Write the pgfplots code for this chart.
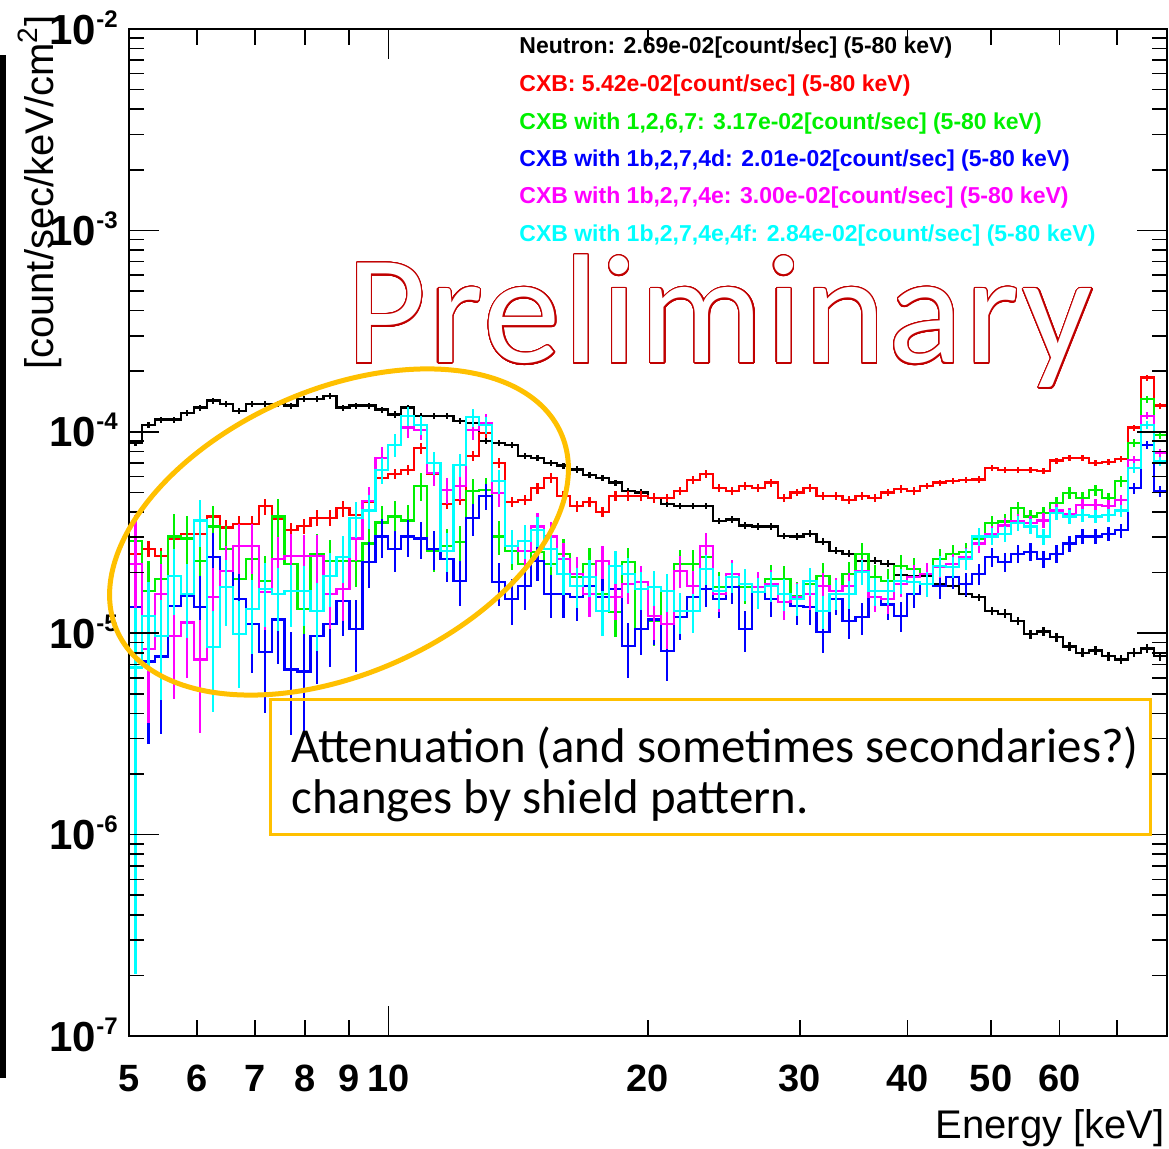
\documentclass[border=0pt]{standalone}
\usepackage{pgfplots}
\pgfplotsset{compat=1.18}
\usepackage{pgfplotstable}
\usepackage{fontspec}
\usepackage[copies]{contour}
\setmainfont{Liberation Sans}
\newfontfamily\calib{Carlito}
\newfontfamily\calibwide[LetterSpace=1.7]{Carlito}

\definecolor{hred}{RGB}{255,0,0}
\definecolor{hgreen}{RGB}{0,240,0}
\definecolor{hblue}{RGB}{0,0,255}
\definecolor{hmag}{RGB}{255,0,255}
\definecolor{hcyan}{RGB}{0,255,255}
\definecolor{callout}{RGB}{255,192,0}
\definecolor{prelim}{RGB}{192,0,0}

% superscripted decade label, ROOT style
\newcommand{\dec}[1]{10\raisebox{8.5pt}{\fontsize{12}{12}\selectfont #1}}

% Spectra per log bin (5-80 keV, 80 bins); rows at 5 and 80 keV close the outer bin edges.
% E: bin centre [keV]; value columns in count/sec/keV/cm2; *e columns: relative errors
% n: neutron, c: CXB, g: 1,2,6,7, b: 1b,2,7,4d, m: 1b,2,7,4e, cy: 1b,2,7,4e,4f
\pgfplotstableread{
E n ne c ce g ge b be m me cy cye
5 8.80e-5 0 2.48e-5 0 2.88e-5 0 1.35e-5 0 2.21e-5 0 6.76e-6 0
5.087 8.80e-5 0.035 2.48e-5 0.09 2.88e-5 0.31 1.35e-5 0.70 2.21e-5 0.75 6.76e-6 0.97
5.266 1.08e-4 0.035 2.63e-5 0.09 1.62e-5 0.41 7.24e-6 0.61 8.32e-6 0.57 1.22e-5 0.47
5.452 1.15e-4 0.035 2.42e-5 0.09 1.86e-5 0.38 7.67e-6 0.59 1.57e-5 0.41 9.66e-6 0.52
5.644 1.15e-4 0.035 2.95e-5 0.09 3.02e-5 0.29 1.36e-5 0.43 9.66e-6 0.51 1.93e-5 0.36
5.843 1.24e-4 0.035 3.12e-5 0.09 2.95e-5 0.29 1.53e-5 0.40 1.13e-5 0.47 1.57e-5 0.40
6.049 1.32e-4 0.035 3.12e-5 0.09 2.29e-5 0.32 1.35e-5 0.42 7.41e-6 0.57 3.63e-5 0.26
6.263 1.43e-4 0.035 3.80e-5 0.09 3.39e-5 0.26 2.40e-5 0.31 1.51e-5 0.39 8.51e-6 0.52
6.483 1.37e-4 0.035 3.35e-5 0.09 2.63e-5 0.29 2.04e-5 0.33 2.04e-5 0.33 1.70e-5 0.36
6.712 1.27e-4 0.035 3.50e-5 0.09 1.86e-5 0.34 1.48e-5 0.38 2.72e-5 0.28 9.89e-6 0.46
6.949 1.37e-4 0.035 3.50e-5 0.09 2.34e-5 0.30 1.11e-5 0.43 2.72e-5 0.28 1.32e-5 0.40
7.194 1.38e-4 0.035 4.27e-5 0.09 1.82e-5 0.33 8.04e-6 0.50 1.60e-5 0.35 1.66e-5 0.35
7.447 1.37e-4 0.035 3.70e-5 0.09 3.80e-5 0.22 1.17e-5 0.40 2.34e-5 0.29 1.57e-5 0.35
7.710 1.35e-4 0.035 3.24e-5 0.09 2.21e-5 0.29 6.61e-6 0.53 2.42e-5 0.28 1.62e-5 0.34
7.982 1.46e-4 0.035 3.40e-5 0.09 1.32e-5 0.37 6.46e-6 0.53 2.42e-5 0.27 1.62e-5 0.33
8.263 1.45e-4 0.035 3.75e-5 0.09 2.48e-5 0.26 9.66e-6 0.42 2.42e-5 0.27 1.29e-5 0.37
8.555 1.51e-4 0.035 3.75e-5 0.09 2.29e-5 0.27 1.11e-5 0.39 1.57e-5 0.33 1.93e-5 0.30
8.856 1.32e-4 0.035 4.17e-5 0.09 2.29e-5 0.27 1.45e-5 0.33 1.66e-5 0.31 2.40e-5 0.26
9.169 1.35e-4 0.035 3.85e-5 0.09 2.29e-5 0.26 1.05e-5 0.39 2.95e-5 0.23 3.72e-5 0.20
9.492 1.35e-4 0.035 4.50e-5 0.06 2.79e-5 0.23 2.26e-5 0.26 4.52e-5 0.18 4.07e-5 0.19
9.827 1.29e-4 0.035 5.90e-5 0.06 3.55e-5 0.20 3.02e-5 0.22 7.41e-5 0.14 6.46e-5 0.15
10.17 1.22e-4 0.035 6.20e-5 0.06 3.80e-5 0.19 2.63e-5 0.23 8.61e-5 0.13 8.61e-5 0.13
10.53 1.32e-4 0.035 6.46e-5 0.06 3.63e-5 0.19 3.02e-5 0.21 1.05e-4 0.11 1.20e-4 0.11
10.90 1.20e-4 0.035 8.30e-5 0.06 5.37e-5 0.16 2.95e-5 0.21 1.02e-4 0.11 1.08e-4 0.11
11.29 1.20e-4 0.035 6.20e-5 0.06 2.57e-5 0.22 2.63e-5 0.22 6.24e-5 0.14 7.00e-5 0.13
11.69 1.20e-4 0.035 4.40e-5 0.06 2.72e-5 0.21 2.34e-5 0.23 5.13e-5 0.15 2.57e-5 0.22
12.10 1.13e-4 0.035 4.60e-5 0.06 2.85e-5 0.20 1.82e-5 0.25 5.37e-5 0.15 6.84e-5 0.13
12.52 1.11e-4 0.035 7.60e-5 0.06 5.07e-5 0.15 3.72e-5 0.18 1.02e-4 0.11 1.18e-4 0.10
12.97 9.00e-5 0.035 9.90e-5 0.06 5.13e-5 0.15 4.79e-5 0.15 1.11e-4 0.10 1.08e-4 0.10
13.42 8.80e-5 0.035 7.00e-5 0.06 3.02e-5 0.19 1.80e-5 0.24 4.96e-5 0.15 5.69e-5 0.14
13.90 8.60e-5 0.035 4.50e-5 0.06 2.57e-5 0.20 1.48e-5 0.26 2.72e-5 0.19 2.72e-5 0.19
14.39 7.60e-5 0.035 4.60e-5 0.06 2.21e-5 0.21 1.72e-5 0.24 2.57e-5 0.20 2.88e-5 0.19
14.89 7.40e-5 0.035 5.25e-5 0.06 2.54e-5 0.20 2.29e-5 0.21 3.39e-5 0.17 3.24e-5 0.17
15.42 7.00e-5 0.035 5.90e-5 0.06 2.21e-5 0.21 1.57e-5 0.24 3.02e-5 0.18 2.63e-5 0.19
15.96 6.80e-5 0.035 4.80e-5 0.06 2.48e-5 0.19 1.57e-5 0.24 2.34e-5 0.20 1.97e-5 0.21
16.53 6.50e-5 0.035 4.27e-5 0.06 1.91e-5 0.21 1.51e-5 0.24 1.97e-5 0.21 1.72e-5 0.22
17.11 6.10e-5 0.035 4.50e-5 0.06 2.21e-5 0.20 1.72e-5 0.22 1.57e-5 0.23 1.91e-5 0.21
17.71 5.90e-5 0.035 4.00e-5 0.06 1.57e-5 0.23 1.51e-5 0.23 2.29e-5 0.19 1.29e-5 0.25
18.34 5.60e-5 0.035 4.80e-5 0.06 1.27e-5 0.25 1.66e-5 0.22 1.51e-5 0.23 2.16e-5 0.19
18.98 5.10e-5 0.035 4.80e-5 0.06 2.25e-5 0.18 8.61e-6 0.30 1.76e-5 0.21 1.97e-5 0.20
19.65 5.00e-5 0.035 4.80e-5 0.06 1.05e-5 0.26 1.05e-5 0.26 1.80e-5 0.20 1.66e-5 0.21
20.34 4.70e-5 0.035 4.70e-5 0.06 1.15e-5 0.25 1.17e-5 0.25 1.22e-5 0.24 1.70e-5 0.20
21.06 4.40e-5 0.035 4.70e-5 0.045 1.62e-5 0.21 8.13e-6 0.29 1.11e-5 0.25 1.62e-5 0.21
21.80 4.30e-5 0.035 5.10e-5 0.045 2.21e-5 0.17 1.20e-5 0.23 2.04e-5 0.18 1.29e-5 0.23
22.57 4.27e-5 0.035 5.75e-5 0.045 2.21e-5 0.17 1.51e-5 0.21 1.72e-5 0.19 1.29e-5 0.22
23.37 4.27e-5 0.035 6.20e-5 0.045 2.40e-5 0.16 1.66e-5 0.19 2.72e-5 0.15 2.09e-5 0.17
24.19 3.60e-5 0.035 5.25e-5 0.045 1.70e-5 0.19 1.48e-5 0.20 1.57e-5 0.19 1.62e-5 0.19
25.05 3.67e-5 0.035 5.07e-5 0.045 1.91e-5 0.17 1.70e-5 0.18 1.97e-5 0.17 1.91e-5 0.17
25.93 3.43e-5 0.035 5.40e-5 0.045 1.70e-5 0.18 1.05e-5 0.23 1.76e-5 0.18 1.76e-5 0.18
26.84 3.39e-5 0.035 5.25e-5 0.045 1.70e-5 0.18 1.70e-5 0.18 1.70e-5 0.18 1.60e-5 0.18
27.79 3.39e-5 0.035 5.60e-5 0.045 1.86e-5 0.17 1.48e-5 0.19 1.76e-5 0.17 1.72e-5 0.17
28.77 3.05e-5 0.035 4.70e-5 0.045 1.86e-5 0.16 1.57e-5 0.18 1.43e-5 0.19 1.57e-5 0.18
29.78 3.02e-5 0.04 5.00e-5 0.045 1.53e-5 0.18 1.36e-5 0.19 1.51e-5 0.18 1.48e-5 0.18
30.83 3.12e-5 0.04 5.25e-5 0.045 1.76e-5 0.16 1.35e-5 0.19 1.57e-5 0.17 1.82e-5 0.16
31.92 2.85e-5 0.04 4.80e-5 0.045 1.93e-5 0.15 1.01e-5 0.21 1.72e-5 0.16 1.29e-5 0.19
33.05 2.57e-5 0.04 4.80e-5 0.045 1.62e-5 0.16 1.48e-5 0.17 1.62e-5 0.16 1.57e-5 0.17
34.21 2.48e-5 0.04 4.60e-5 0.045 1.97e-5 0.15 1.15e-5 0.19 1.72e-5 0.16 1.57e-5 0.16
35.42 2.29e-5 0.04 4.80e-5 0.045 2.48e-5 0.13 1.20e-5 0.18 2.04e-5 0.14 2.02e-5 0.14
36.67 2.29e-5 0.04 4.70e-5 0.045 1.91e-5 0.14 1.51e-5 0.16 1.51e-5 0.16 1.62e-5 0.16
37.96 2.21e-5 0.04 5.00e-5 0.045 1.82e-5 0.14 1.39e-5 0.16 1.48e-5 0.16 1.62e-5 0.15
39.30 1.95e-5 0.04 5.20e-5 0.045 2.16e-5 0.13 1.22e-5 0.17 1.76e-5 0.14 1.82e-5 0.14
40.68 1.93e-5 0.04 5.10e-5 0.045 2.09e-5 0.13 1.57e-5 0.15 1.91e-5 0.14 1.80e-5 0.14
42.12 1.93e-5 0.04 5.40e-5 0.035 1.97e-5 0.13 1.76e-5 0.14 1.97e-5 0.13 1.76e-5 0.14
43.60 1.76e-5 0.04 5.60e-5 0.035 2.34e-5 0.12 1.72e-5 0.14 2.14e-5 0.12 2.16e-5 0.12
45.14 1.72e-5 0.04 5.70e-5 0.035 2.48e-5 0.11 1.91e-5 0.13 2.21e-5 0.12 2.14e-5 0.12
46.73 1.57e-5 0.04 5.75e-5 0.035 2.54e-5 0.11 1.76e-5 0.13 2.40e-5 0.11 2.34e-5 0.12
48.38 1.51e-5 0.04 5.80e-5 0.035 2.95e-5 0.10 1.97e-5 0.12 2.79e-5 0.10 3.02e-5 0.10
50.09 1.29e-5 0.05 6.60e-5 0.035 3.51e-5 0.09 2.40e-5 0.11 3.12e-5 0.096 3.02e-5 0.097
51.85 1.25e-5 0.05 6.46e-5 0.035 3.59e-5 0.09 2.26e-5 0.11 3.43e-5 0.09 3.12e-5 0.094
53.68 1.15e-5 0.05 6.46e-5 0.035 4.17e-5 0.08 2.48e-5 0.10 3.59e-5 0.087 3.51e-5 0.088
55.57 9.90e-6 0.05 6.46e-5 0.035 3.80e-5 0.08 2.54e-5 0.10 3.51e-5 0.085 3.39e-5 0.087
57.53 1.02e-5 0.05 6.40e-5 0.035 3.94e-5 0.08 2.34e-5 0.10 3.63e-5 0.083 3.02e-5 0.091
59.56 9.55e-6 0.05 7.20e-5 0.035 4.42e-5 0.07 2.48e-5 0.10 4.07e-5 0.077 3.94e-5 0.078
61.66 8.60e-6 0.05 7.40e-5 0.035 4.96e-5 0.07 2.79e-5 0.09 3.89e-5 0.077 3.80e-5 0.078
63.84 8.00e-6 0.05 7.40e-5 0.035 4.68e-5 0.07 3.02e-5 0.086 4.32e-5 0.072 3.85e-5 0.076
66.09 8.20e-6 0.05 7.00e-5 0.035 5.13e-5 0.065 3.02e-5 0.085 4.32e-5 0.071 3.80e-5 0.076
68.42 7.70e-6 0.05 7.10e-5 0.035 4.68e-5 0.067 3.12e-5 0.082 4.27e-5 0.070 3.85e-5 0.074
70.83 7.40e-6 0.05 7.30e-5 0.035 5.69e-5 0.06 3.24e-5 0.079 4.57e-5 0.066 4.07e-5 0.070
73.33 8.00e-6 0.05 1.05e-4 0.035 8.81e-5 0.047 5.25e-5 0.061 7.24e-5 0.052 6.61e-5 0.054
75.91 8.40e-6 0.05 1.86e-4 0.035 1.45e-4 0.036 8.61e-5 0.047 1.20e-4 0.040 1.08e-4 0.042
78.59 7.70e-6 0.05 1.35e-4 0.035 9.66e-5 0.043 5.07e-5 0.060 7.85e-5 0.048 7.16e-5 0.050
80 7.70e-6 0 1.35e-4 0 9.66e-5 0 5.07e-5 0 7.85e-5 0 7.16e-5 0
}\spectra

\pgfplotsset{
  hist/.style={const plot mark mid, line width=1.1pt, mark=none,
    error bars/y dir=both, error bars/y explicit relative,
    error bars/error mark=none,
    error bars/error bar style={line width=1.1pt}},
}

\begin{document}
\begin{tikzpicture}[x=0.5pt, y=0.5pt]
\useasboundingbox (0,0) rectangle (1169,1148);

% strip of a neighbouring figure at the left edge
\fill[black] (0,70) rectangle (6,1093);

\begin{axis}[
  at={(64.5pt,56pt)}, anchor=south west,
  width=519pt, height=503.5pt, scale only axis,
  xmode=log, ymode=log,
  xmin=5, xmax=80, ymin=1e-7, ymax=1e-2,
  xtick={10}, xticklabels={10},
  extra x ticks={5,6,7,8,9,20,30,40,50,60,70},
  extra x tick labels={5,6,7,8,9,20,30,40,50,60,{}},
  extra x tick style={major tick length=8pt},
  ytick={1e-7,1e-6,1e-5,1e-4,1e-3,1e-2},
  yticklabels={\dec{-7},\dec{-6},\dec{-5},\dec{-4},\dec{-3},\dec{-2}},
  minor ytick={2e-7,3e-7,4e-7,5e-7,6e-7,7e-7,8e-7,9e-7,
               2e-6,3e-6,4e-6,5e-6,6e-6,7e-6,8e-6,9e-6,
               2e-5,3e-5,4e-5,5e-5,6e-5,7e-5,8e-5,9e-5,
               2e-4,3e-4,4e-4,5e-4,6e-4,7e-4,8e-4,9e-4,
               2e-3,3e-3,4e-3,5e-3,6e-3,7e-3,8e-3,9e-3},
  tick align=inside,
  major tick length=15pt, minor tick length=7.5pt,
  tick style={black, line width=0.8pt},
  axis line style={line width=1pt},
  xticklabel style={font=\bfseries\fontsize{19}{19}\selectfont, anchor=north, inner sep=0pt, yshift=-14.5pt},
  yticklabel style={font=\bfseries\fontsize{21}{21}\selectfont, anchor=base east, inner sep=0pt, xshift=-5.5pt, yshift=-7.5pt},
  axis on top,
]
\addplot[hist, black] table[x=E, y=n, y error=ne] {\spectra};
\addplot[hist, hred] table[x=E, y=c, y error=ce] {\spectra};
\addplot[hist, hgreen] table[x=E, y=g, y error=ge] {\spectra};
\addplot[hist, hblue] table[x=E, y=b, y error=be] {\spectra};
\addplot[hist, hmag] table[x=E, y=m, y error=me] {\spectra};
\addplot[hist, hcyan] table[x=E, y=cy, y error=cye] {\spectra};
\end{axis}

% axis titles
\node[rotate=90, anchor=base east, inner sep=0pt, font=\fontsize{20}{24}\selectfont] at (53,1133) {[count/sec/keV/cm\textsuperscript{2}]};
\node[anchor=base east, inner sep=0pt, font=\fontsize{20}{24}\selectfont] at (1165,10) {Energy [keV]};

% integrated rates
\begin{scope}[every node/.style={anchor=base west, inner sep=0pt, font=\bfseries\fontsize{11.5}{13}\selectfont}]
\node[text=black] at (519,1094) {Neutron: 2.69e-02[count/sec] (5-80 keV)};
\node[text=hred] at (519,1056) {CXB: 5.42e-02[count/sec] (5-80 keV)};
\node[text=hgreen] at (519,1018) {CXB with 1,2,6,7: 3.17e-02[count/sec] (5-80 keV)};
\node[text=hblue] at (519,981) {CXB with 1b,2,7,4d: 2.01e-02[count/sec] (5-80 keV)};
\node[text=hmag] at (519,944) {CXB with 1b,2,7,4e: 3.00e-02[count/sec] (5-80 keV)};
\node[text=hcyan] at (519,906) {CXB with 1b,2,7,4e,4f: 2.84e-02[count/sec] (5-80 keV)};
\end{scope}

% status stamp: hollow lettering (white glyphs with a thin red rim)
\contourlength{0.65pt}
\contournumber{32}
\node[anchor=base west, inner sep=0pt] at (346,785)
  {\calibwide\fontsize{77.5}{80}\selectfont\color{white}\contour{prelim}{Preliminary}};

% low-energy region and note
\begin{scope}[rotate around={24:(339,616)}]
\draw[callout, line width=2.5pt] (339,616) ellipse [x radius=121.5pt, y radius=71pt];
\end{scope}
\draw[callout, line width=1.5pt] (270,313) rectangle (1150,448);
\node[anchor=base west, inner sep=0pt, font=\calib\fontsize{24.4}{29}\selectfont] at (291,386) {Attenuation (and sometimes secondaries?)};
\node[anchor=base west, inner sep=0pt, font=\calib\fontsize{24.4}{29}\selectfont] at (291,334) {changes by shield pattern.};
\end{tikzpicture}
\end{document}
